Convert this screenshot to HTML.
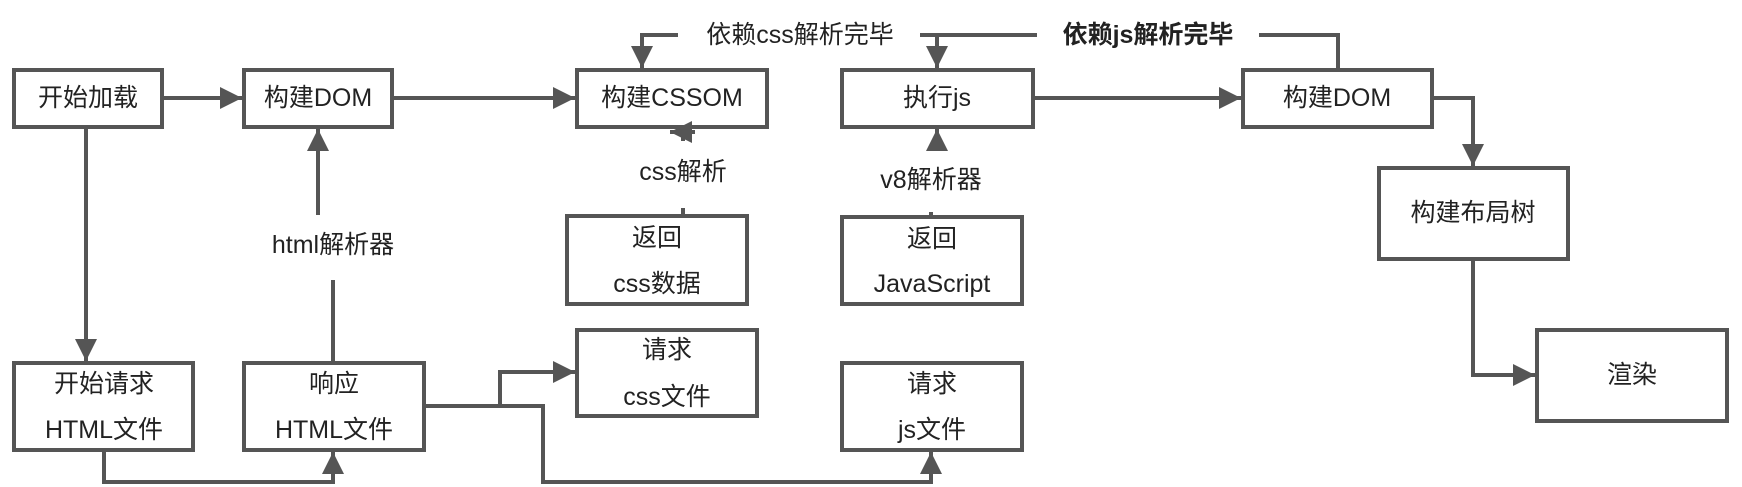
<!DOCTYPE html>
<html><head><meta charset="utf-8"><style>
html,body{margin:0;padding:0;background:#fff;}
svg{display:block}
text{font-family:"Liberation Sans","Noto Sans CJK SC",sans-serif;font-size:25px;fill:#222;text-anchor:middle;dominant-baseline:central}
</style></head><body>
<svg width="1742" height="487" viewBox="0 0 1742 487" xmlns="http://www.w3.org/2000/svg">
<defs>
<marker id="a" viewBox="0 0 10 10" refX="10" refY="5" markerWidth="5.5" markerHeight="5.5" markerUnits="strokeWidth" orient="auto"><path d="M0,0 L10,5 L0,10 z" fill="#555"/></marker>
</defs>
<g fill="none" stroke="#555" stroke-width="4">
<rect x="14" y="70" width="148" height="57"/>
<rect x="244" y="70" width="148" height="57"/>
<rect x="577" y="70" width="190" height="57"/>
<rect x="842" y="70" width="191" height="57"/>
<rect x="1243" y="70" width="189" height="57"/>
<rect x="1379" y="168" width="189" height="91"/>
<rect x="1537" y="330" width="190" height="91"/>
<rect x="567" y="216" width="180" height="88"/>
<rect x="842" y="217" width="180" height="87"/>
<rect x="577" y="330" width="180" height="86"/>
<rect x="842" y="363" width="180" height="87"/>
<rect x="14" y="363" width="179" height="87"/>
<rect x="244" y="363" width="180" height="87"/>
</g>
<g fill="none" stroke="#555" stroke-width="4">
<path d="M162 98 H242" marker-end="url(#a)"/>
<path d="M392 98 H575" marker-end="url(#a)"/>
<path d="M1033 98 H1241" marker-end="url(#a)"/>
<path d="M1432 98 H1473 V166" marker-end="url(#a)"/>
<path d="M1473 259 V375 H1535" marker-end="url(#a)"/>
<path d="M86 127 V361" marker-end="url(#a)"/>
<path d="M104 450 V482 H333 V452" marker-end="url(#a)"/>
<path d="M333 363 V280"/>
<path d="M318 215 V129" marker-end="url(#a)"/>
<path d="M424 406 H500 V372 H575" marker-end="url(#a)"/>
<path d="M500 406 H543 V482 H931 V452" marker-end="url(#a)"/>
<path d="M678 35 H642 V68" marker-end="url(#a)"/>
<path d="M920 35 H1037"/>
<path d="M937 35 V68" marker-end="url(#a)"/>
<path d="M1259 35 H1338 V70"/>
<path d="M683 216 V208"/>
<path d="M683 141 V132"/>
<path d="M695 132 H670" marker-end="url(#a)"/>
<path d="M937 146 V129" marker-end="url(#a)"/>
<path d="M931 216 V212"/>
</g>
<text x="88" y="98">开始加载</text>
<text x="318" y="98">构建DOM</text>
<text x="672" y="98">构建CSSOM</text>
<text x="937" y="98">执行js</text>
<text x="1337" y="98">构建DOM</text>
<text x="1473" y="213">构建布局树</text>
<text x="1632" y="375">渲染</text>
<text x="657" y="238">返回</text>
<text x="657" y="284">css数据</text>
<text x="932" y="239">返回</text>
<text x="932" y="284">JavaScript</text>
<text x="667" y="350">请求</text>
<text x="667" y="397">css文件</text>
<text x="932" y="384">请求</text>
<text x="932" y="430">js文件</text>
<text x="104" y="384">开始请求</text>
<text x="104" y="430">HTML文件</text>
<text x="334" y="384">响应</text>
<text x="334" y="430">HTML文件</text>
<text x="333" y="245">html解析器</text>
<text x="683" y="172">css解析</text>
<text x="931" y="180">v8解析器</text>
<text x="800" y="35">依赖css解析完毕</text>
<text x="1148" y="35" style="font-weight:bold">依赖js解析完毕</text>
</svg>
</body></html>
